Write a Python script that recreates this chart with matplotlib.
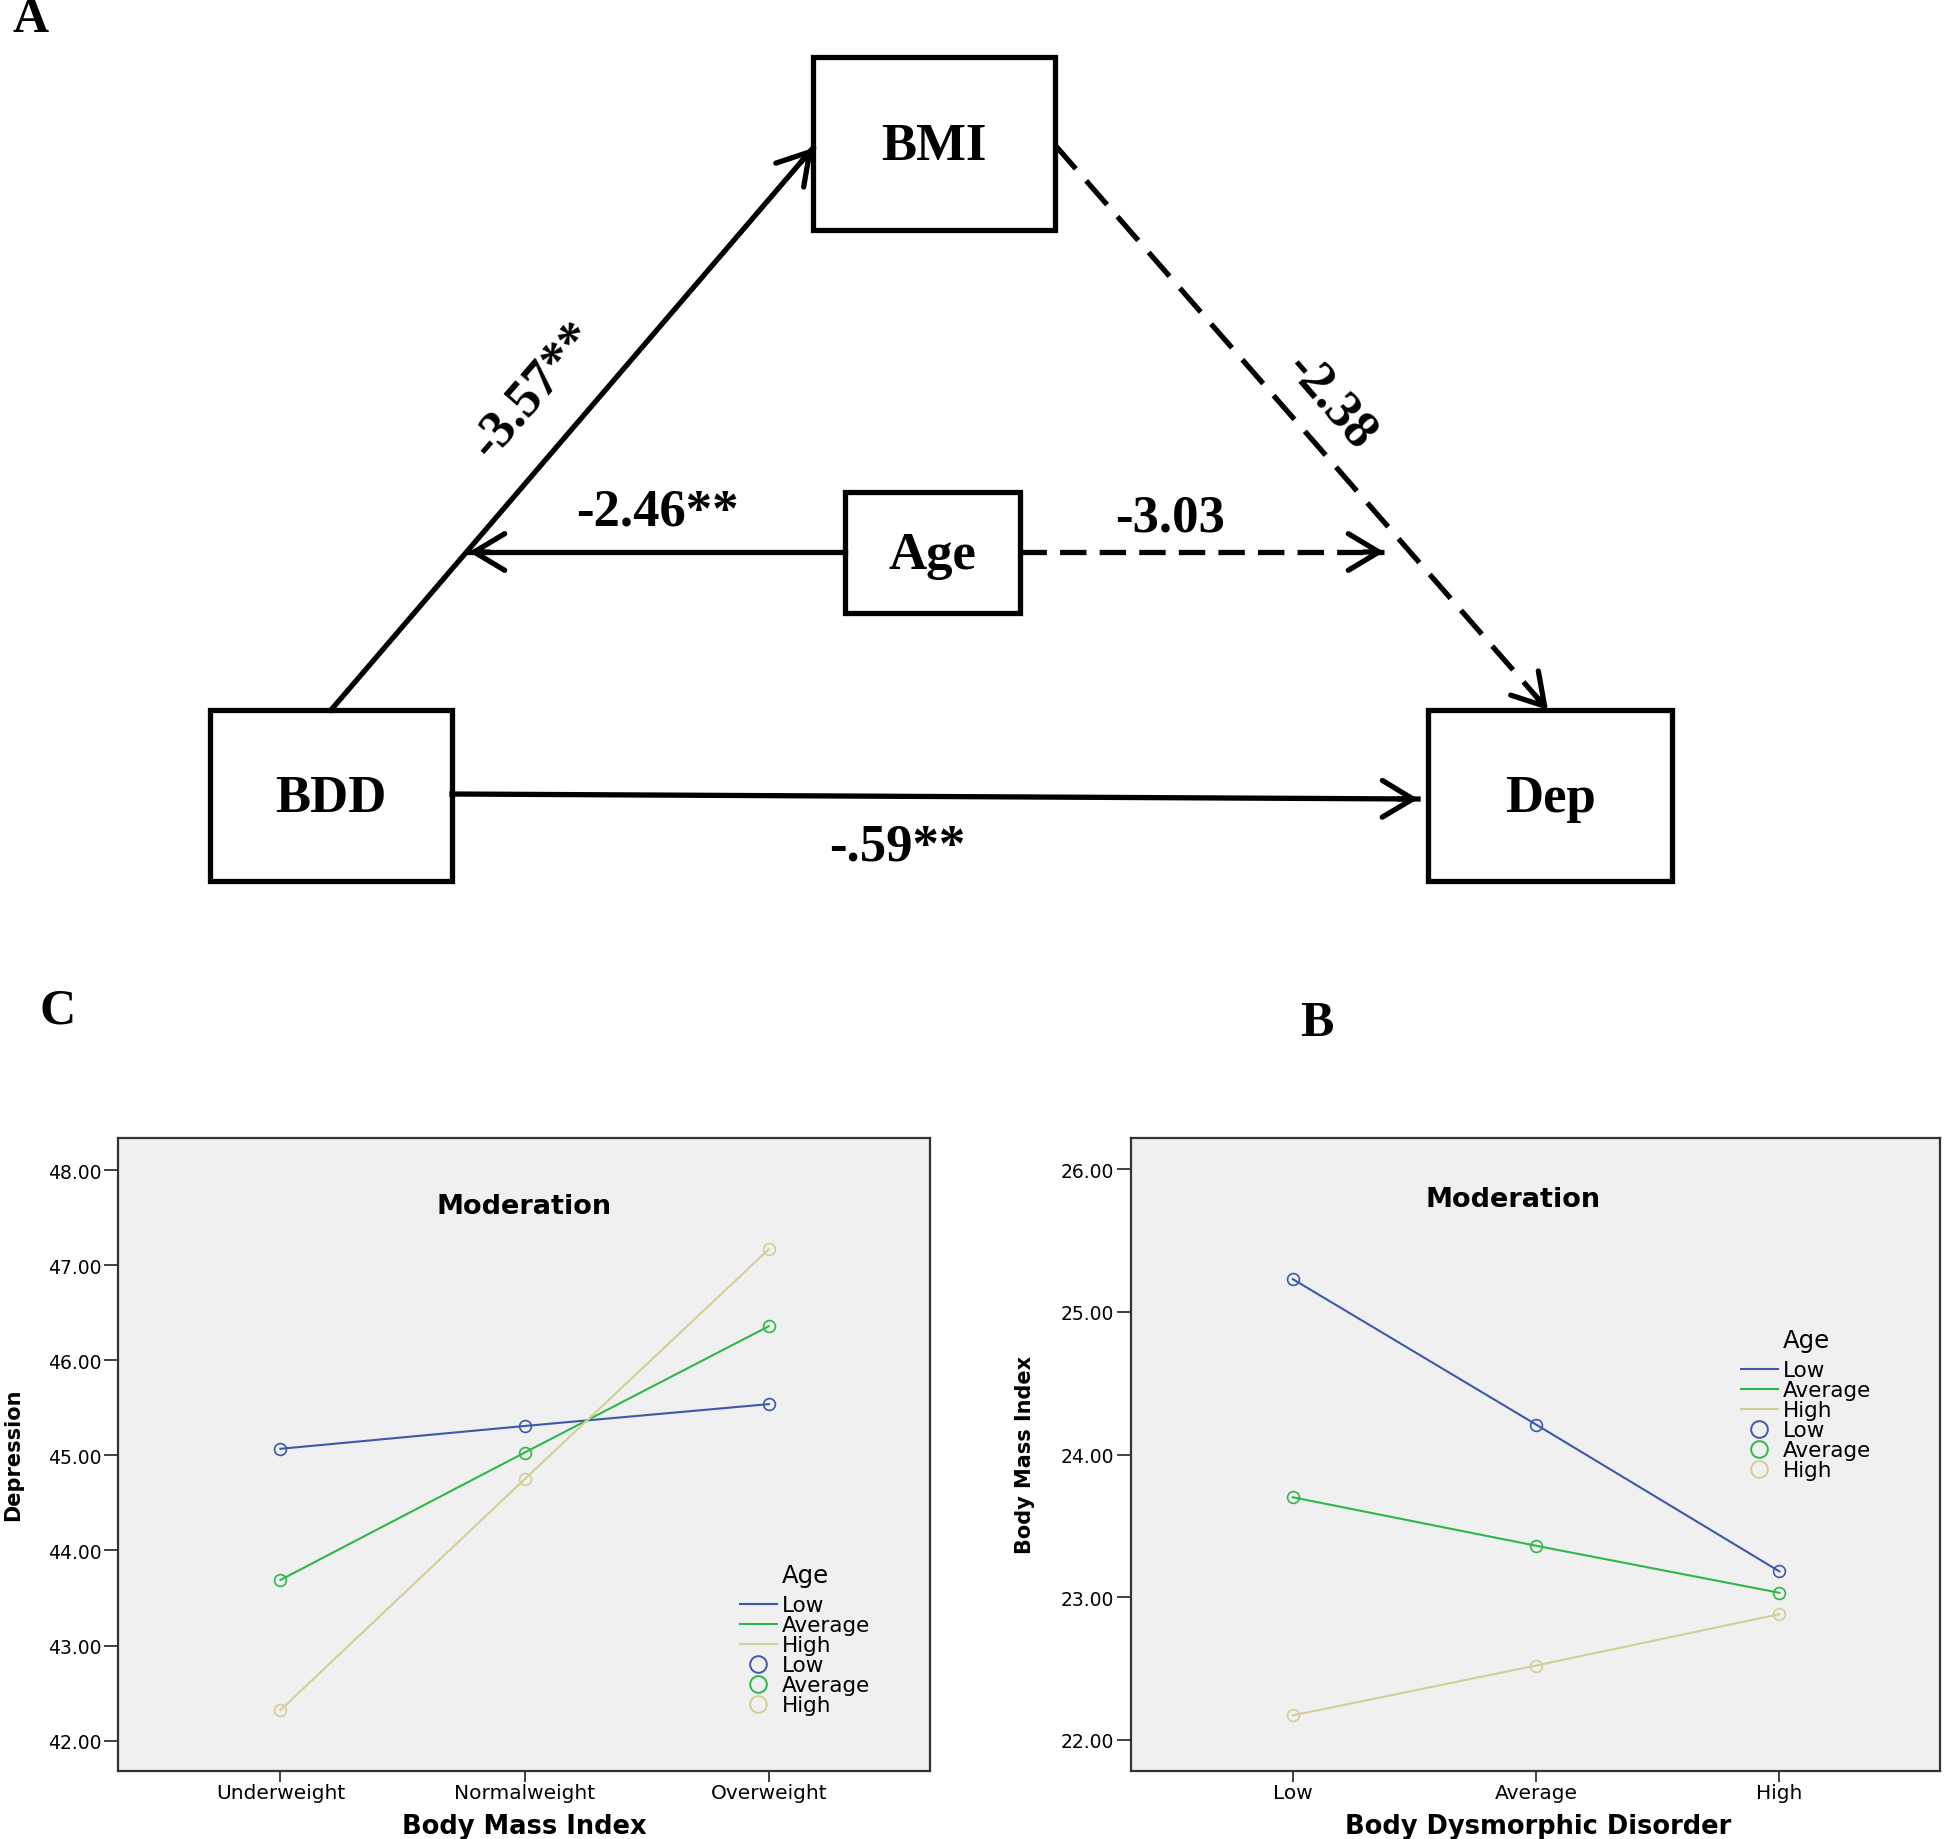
import matplotlib
matplotlib.use('Agg')
import matplotlib.pyplot as plt
from matplotlib.patches import Rectangle
from matplotlib.lines import Line2D

#====================== data =======================
# panel C : depression by BMI group, three age levels
bmi_cats = ['Underweight', 'Normalweight', 'Overweight']
dep_low = [45.07, 45.31, 45.54]
dep_avg = [43.69, 45.03, 46.36]
dep_high = [42.32, 44.75, 47.17]
dep_ticks = [42, 43, 44, 45, 46, 47, 48]

# panel B : BMI by BDD level, three age levels
bdd_cats = ['Low', 'Average', 'High']
bmi_low = [25.23, 24.21, 23.18]
bmi_avg = [23.70, 23.36, 23.03]
bmi_high = [22.17, 22.52, 22.88]
bmi_ticks = [22, 23, 24, 25, 26]

age_levels = ['Low', 'Average', 'High']

# panel A : path diagram
nodes = ['BMI', 'Age', 'BDD', 'Dep']
coefs = ['-3.57**', '-2.38', '-2.46**', '-3.03', '-.59**']

#====================== layout =======================
W, H = 1946, 1840
fig = plt.figure(figsize=(W / 100, H / 100), dpi=100)

colors = ['#3E58AC', '#2EB848', '#D3CE97']
serif = ['Liberation Serif', 'DejaVu Serif']


def rect(x0, y0, x1, y1):
    # pixel box (top-left origin) -> figure fraction
    return [x0 / W, 1 - y1 / H, (x1 - x0) / W, (y1 - y0) / H]


#---------------- path diagram (A) ----------------
ax0 = fig.add_axes([0, 0, 1, 1])
ax0.set_xlim(0, W)
ax0.set_ylim(H, 0)
ax0.axis('off')

boxes = {'BMI': (813, 58, 1055, 231), 'Age': (845, 493, 1020, 614),
         'BDD': (210, 711, 452, 882), 'Dep': (1428, 711, 1672, 882)}
for name in nodes:
    x0, y0, x1, y1 = boxes[name]
    ax0.add_patch(Rectangle((x0, y0), x1 - x0, y1 - y0, fill=False, lw=3.8, ec='k'))
    ax0.text((x0 + x1) / 2, (y0 + y1) / 2 + 3, name, ha='center', va='center',
             fontsize=38, fontweight='bold', family=serif)

# start, end, dashed, dash pattern
edges = [((331, 711), (813, 149), False, None),
         ((1055, 146), (1548, 711), True, (6, 3)),
         ((845, 553), (469, 553), False, None),
         ((1020, 553), (1384, 553), True, (5, 2.5)),
         ((452, 795), (1418, 800), False, None)]
for (s, e, dashed, pat) in edges:
    if dashed:
        ax0.plot([s[0], e[0]], [s[1], e[1]], color='k', lw=3.8, ls=(0, pat),
                 solid_capstyle='butt')
    else:
        ax0.plot([s[0], e[0]], [s[1], e[1]], color='k', lw=3.8)
    dx, dy = e[0] - s[0], e[1] - s[1]
    n = (dx ** 2 + dy ** 2) ** 0.5
    back = (e[0] - dx / n * 20, e[1] - dy / n * 20)
    ax0.annotate('', xy=e, xytext=back,
                 arrowprops=dict(arrowstyle='->,head_length=1.0,head_width=0.6',
                                 lw=3.8, color='k', shrinkA=0, shrinkB=0,
                                 mutation_scale=22))

coef_pos = [(533, 391, 49), (1330, 402, -49), (657, 513, 0), (1170, 519, 0), (897, 848, 0)]
for lab, (x, y, r) in zip(coefs, coef_pos):
    ax0.text(x, y, lab, ha='center', va='center', rotation=r,
             fontsize=38, fontweight='bold', family=serif)

fig.text(31 / W, 1 - 20 / H, 'A', ha='center', va='center', fontsize=36,
         fontweight='bold', family=serif)
fig.text(58 / W, 1 - 1012 / H, 'C', ha='center', va='center', fontsize=36,
         fontweight='bold', family=serif)
fig.text(1317 / W, 1 - 1024 / H, 'B', ha='center', va='center', fontsize=36,
         fontweight='bold', family=serif)


#---------------- interaction plots ----------------
def panel(box, cats, series, ticks, ylim, title_xy, leg_xy, xlab, xlab_xy, ylab, ylab_xy):
    ax = fig.add_axes(rect(*box))
    ax.set_facecolor('#F0F0F0')
    x = range(len(cats))
    for vals, c in zip(series, colors):
        ax.plot(x, vals, color=c, lw=1.5, marker='o', mfc='none', mec=c,
                ms=8.5, mew=1.2)
    ax.set_xlim(-0.665, 2.66)
    ax.set_ylim(*ylim)
    ax.set_xticks(list(x))
    ax.set_xticklabels(cats)
    ax.set_yticks(ticks)
    ax.set_yticklabels(['%.2f' % t for t in ticks])
    ax.tick_params(axis='both', color='#333333', width=1.3, length=10, pad=2)
    ax.tick_params(axis='x', labelsize=14.5, length=8, pad=1)
    ax.tick_params(axis='y', labelsize=13.5)
    for sp in ax.spines.values():
        sp.set_color('#333333')
        sp.set_linewidth(1.6)
    ax.text(title_xy[0], title_xy[1], 'Moderation', transform=ax.transAxes,
            ha='center', va='center', fontsize=19.5, fontweight='bold')

    handles = [Line2D([], [], color=c, lw=1.5) for c in colors]
    handles += [Line2D([], [], ls='none', marker='o', mfc='none', mec=c, ms=12, mew=1.4)
                for c in colors]
    leg = ax.legend(handles, age_levels + age_levels, title='Age', loc='upper left',
                    bbox_to_anchor=leg_xy, frameon=False, fontsize=15.5,
                    title_fontsize=17.5, borderpad=0, borderaxespad=0,
                    handlelength=1.7, handletextpad=0.25, labelspacing=0.0)
    leg._legend_box.align = 'center'
    leg._legend_box.sep = 6

    fig.text(xlab_xy[0] / W, 1 - xlab_xy[1] / H, xlab, ha='center', va='center',
             fontsize=18.5, fontweight='bold')
    fig.text(ylab_xy[0] / W, 1 - ylab_xy[1] / H, ylab, ha='center', va='center',
             rotation=90, fontsize=15, fontweight='bold')
    return ax


panel((118, 1139, 930, 1772), bmi_cats, [dep_low, dep_avg, dep_high], dep_ticks,
      (41.68, 48.34), (0.5, 0.893), (0.766, 0.329), 'Body Mass Index', (524, 1827),
      'Depression', (13, 1455))

panel((1131, 1139, 1940, 1772), bdd_cats, [bmi_low, bmi_avg, bmi_high], bmi_ticks,
      (21.78, 26.22), (0.472, 0.904), (0.754, 0.700), 'Body Dysmorphic Disorder',
      (1538, 1827), 'Body Mass Index', (1025, 1455))

plt.savefig('out.png', dpi=100)
